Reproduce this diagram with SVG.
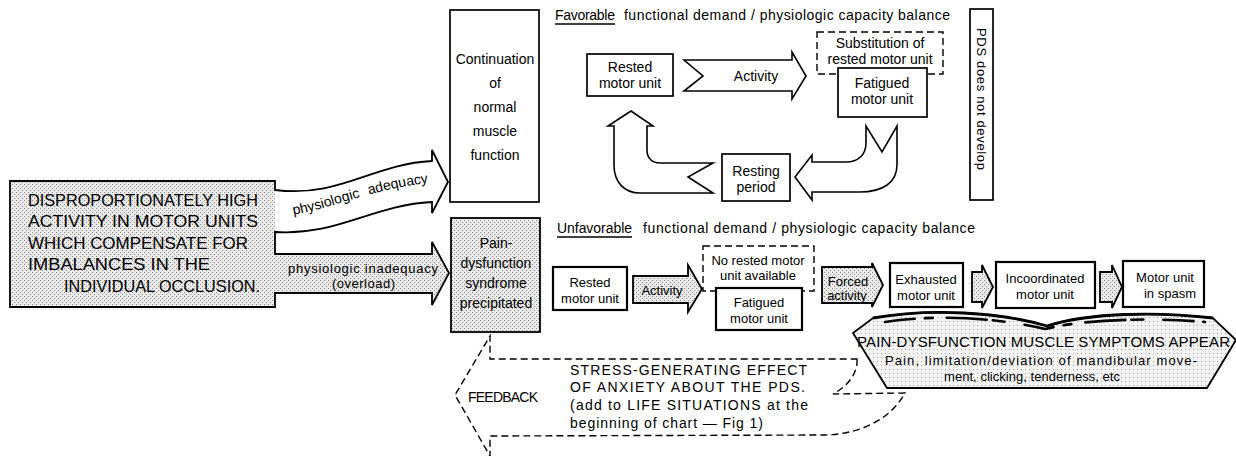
<svg xmlns="http://www.w3.org/2000/svg" width="1236" height="456" viewBox="0 0 1236 456">
<defs>
<pattern id="dots" width="4" height="4" patternUnits="userSpaceOnUse">
<rect width="4" height="4" fill="#e9e9e9"/>
<rect x="0" y="0" width="1" height="1" fill="#8a8a8a"/>
<rect x="2" y="2" width="1" height="1" fill="#8a8a8a"/>
</pattern>
<pattern id="dotsL" width="4" height="4" patternUnits="userSpaceOnUse">
<rect width="4" height="4" fill="#f3f3f3"/>
<rect x="1" y="1" width="1" height="1" fill="#a0a0a0"/>
</pattern>
<path id="adqPath" d="M286,216 C 330,210 372,188 436,182"/>
</defs>
<style>
.box{fill:#fff;stroke:#000;stroke-width:1.7}
.boxb{fill:#fff;stroke:#000;stroke-width:2.2}
.shade{fill:url(#dots);stroke:#000;stroke-width:1.8}
.dash{fill:none;stroke:#000;stroke-width:1.4;stroke-dasharray:7 4}
.dashw{fill:#fff;stroke:#000;stroke-width:1.4;stroke-dasharray:7 4}
.open{fill:#fff;stroke:#000;stroke-width:1.6;stroke-linejoin:miter}
.t{font-family:"Liberation Sans",Arial,sans-serif;font-size:14px;fill:#000;text-anchor:middle}
.s{font-size:13px}
.big{font-size:17px}
.m15{font-size:15px}
.l{text-anchor:start}
</style>

<g id="connectors">
<path d="M10,181 H275 V190 C 340,198 372,164 432,161 V150 L448,182 L432,213 V202 C 372,205 338,236 275,232 V254 H432 V242 L449,273 L432,305 V293 H275 V307 H10 Z" fill="url(#dots)" stroke="none"/>
<path d="M275,190 C 340,198 372,164 432,161 V150 L448,182 L432,213 V202 C 372,205 338,236 275,232 Z" fill="#fff" stroke="none"/>
<path d="M10,181 H275 V190 C 340,198 372,164 432,161 V150 L448,182 L432,213 V202 C 372,205 338,236 275,232 V254 H432 V242 L449,273 L432,305 V293 H275 V307 H10 Z" fill="none" stroke="#000" stroke-width="1.8" stroke-linejoin="miter"/>
<text class="t" word-spacing="5"><textPath href="#adqPath" startOffset="50%">physiologic adequacy</textPath></text>
<text class="t l s" x="288" y="273" textLength="150" lengthAdjust="spacing">physiologic inadequacy</text>
<text class="t l s" x="332" y="288" textLength="63" lengthAdjust="spacing">(overload)</text>

<path id="arrowTopActivity" class="open" d="M684,60 H792 V52 L806,76 L792,99 V91 H684 L703,76 Z"/>
<text class="t" x="756" y="81">Activity</text>
<path id="arrowToResting" class="open" d="M866,126 L882,152 L897,126 V165 C897,183 882,192 860,192 H812 V200 L795,177 L812,155 V162 H846 C858,162 866,155 866,143 Z"/>
<path id="arrowToRested" class="open" d="M713,163 L688,177 L713,193 H640 C624,193 614,182 614,165 V126 H608 L631,111 L653,126 H647 V150 C647,158 652,163 660,163 Z"/>

<path id="arrowBotActivity" class="shade" d="M633,276 H688 V265 L702,289 L688,312 V303 H633 Z"/>
<text class="t s" x="662" y="295">Activity</text>
<path id="arrowForced" class="shade" d="M822,267 H872 V263 L883,285 L872,307 V303 H822 Z"/>
<text class="t s" x="848" y="286">Forced</text>
<text class="t s" x="847" y="300">activity</text>
<path id="arrowSmall1" class="shade" d="M972,272 H982 V265 L993,287 L982,308 V302 H972 Z"/>
<path id="arrowSmall2" class="shade" d="M1100,272 H1112 V265 L1122,287 L1112,308 V302 H1100 Z"/>

<path id="feedback" class="dash" d="M857,359 C 858,373 848,386 833,394 L905,393 C 890,420 860,434 825,435 L490,436 L490,456 L455,395 L490,336 L490,359 Z"/>
</g>

<g id="source">
<text class="t l big" x="28" y="206" textLength="230" lengthAdjust="spacingAndGlyphs">DISPROPORTIONATELY HIGH</text>
<text class="t l big" x="28" y="227" textLength="230" lengthAdjust="spacingAndGlyphs">ACTIVITY IN MOTOR UNITS</text>
<text class="t l big" x="28" y="249" textLength="220" lengthAdjust="spacingAndGlyphs">WHICH COMPENSATE FOR</text>
<text class="t l big" x="28" y="270" textLength="182" lengthAdjust="spacingAndGlyphs">IMBALANCES IN THE</text>
<text class="t l big" x="64" y="292" textLength="196" lengthAdjust="spacingAndGlyphs">INDIVIDUAL OCCLUSION.</text>
</g>

<g id="continuation">
<rect class="box" x="450" y="10" width="89" height="192"/>
<text class="t" x="495" y="64">Continuation</text>
<text class="t" x="495" y="88">of</text>
<text class="t" x="495" y="112">normal</text>
<text class="t" x="495" y="136">muscle</text>
<text class="t" x="495" y="160">function</text>
</g>

<g id="pds-precipitated">
<rect class="shade" x="451" y="218" width="89" height="114"/>
<text class="t" x="496" y="248">Pain-</text>
<text class="t" x="496" y="268">dysfunction</text>
<text class="t" x="496" y="288">syndrome</text>
<text class="t" x="496" y="308">precipitated</text>
</g>

<g id="header-favorable">
<text class="t l" x="555" y="20" textLength="60" lengthAdjust="spacing">Favorable</text>
<line x1="555" y1="24" x2="615" y2="24" stroke="#000" stroke-width="1.3"/>
<text class="t l" x="624" y="20" textLength="326" lengthAdjust="spacing">functional demand / physiologic capacity balance</text>
</g>

<g id="rested-top">
<rect class="box" x="587" y="54" width="86" height="42"/>
<text class="t" x="630" y="72">Rested</text>
<text class="t" x="630" y="88">motor unit</text>
</g>

<g id="substitution">
<rect class="dashw" x="817" y="32" width="126" height="42"/>
<text class="t" x="880" y="48">Substitution of</text>
<text class="t" x="880" y="64">rested motor unit</text>
</g>

<g id="fatigued-top">
<rect class="box" x="838" y="68" width="89" height="49"/>
<text class="t" x="882" y="88">Fatigued</text>
<text class="t" x="882" y="104">motor unit</text>
</g>

<g id="resting">
<rect class="box" x="722" y="154" width="68" height="47"/>
<text class="t" x="756" y="176">Resting</text>
<text class="t" x="756" y="192">period</text>
</g>

<g id="pds-not">
<rect class="box" x="970" y="9" width="23" height="191"/>
<text class="t s" transform="translate(977,99) rotate(90)" textLength="142" lengthAdjust="spacing">PDS does not develop</text>
</g>

<g id="header-unfavorable">
<text class="t l" x="557" y="233" textLength="75" lengthAdjust="spacing">Unfavorable</text>
<line x1="557" y1="237" x2="632" y2="237" stroke="#000" stroke-width="1.3"/>
<text class="t l" x="643" y="233" textLength="332" lengthAdjust="spacing">functional demand / physiologic capacity balance</text>
</g>

<g id="rested-bottom">
<rect class="boxb" x="553" y="267" width="74" height="43"/>
<text class="t s" x="590" y="287">Rested</text>
<text class="t s" x="590" y="303">motor unit</text>
</g>

<g id="no-rested">
<rect class="dashw" x="703" y="246" width="111" height="45"/>
<text class="t s" x="758" y="265">No rested motor</text>
<text class="t s" x="758" y="280">unit available</text>
</g>

<g id="fatigued-bottom">
<rect class="boxb" x="716" y="288" width="86" height="42"/>
<text class="t s" x="759" y="307">Fatigued</text>
<text class="t s" x="759" y="323">motor unit</text>
</g>

<g id="exhausted">
<rect class="boxb" x="890" y="263" width="73" height="44"/>
<text class="t s" x="926" y="284">Exhausted</text>
<text class="t s" x="926" y="300">motor unit</text>
</g>

<g id="incoordinated">
<rect class="boxb" x="996" y="262" width="99" height="46"/>
<text class="t s" x="1045" y="283">Incoordinated</text>
<text class="t s" x="1045" y="299">motor unit</text>
</g>

<g id="spasm">
<rect class="boxb" x="1123" y="261" width="81" height="46"/>
<text class="t s" x="1165" y="282">Motor unit</text>
<text class="t s" x="1170" y="298">in spasm</text>
</g>

<g id="symptoms">
<path d="M873,318 C 930,308 1000,312 1047,326 C 1090,312 1160,312 1213,318 L1236,340 L1207,388 L887,388 L853,333 Z" fill="url(#dotsL)" stroke="#000" stroke-width="1.8"/>
<path d="M873,318 C 930,308 1000,312 1047,326 C 1090,312 1160,312 1213,318" fill="none" stroke="#000" stroke-width="2.8"/>
<path d="M885,322 C 935,314 1000,318 1045,329 C 1090,318 1160,318 1205,322" fill="none" stroke="#000" stroke-width="2.6" stroke-linecap="round" stroke-dasharray="30 10 8 14 40 6 12 20"/>
<text class="t l m15" x="857" y="347" textLength="373" lengthAdjust="spacing">PAIN-DYSFUNCTION MUSCLE SYMPTOMS APPEAR</text>
<text class="t l s" x="885" y="365" textLength="312" lengthAdjust="spacing">Pain, limitation/deviation of mandibular move-</text>
<text class="t l s" x="944" y="381" textLength="176" lengthAdjust="spacing">ment, clicking, tenderness, etc</text>
</g>

<g id="feedback-text">
<text class="t l" x="468" y="402" textLength="70" lengthAdjust="spacing">FEEDBACK</text>
<text class="t l" x="570" y="375" textLength="237" lengthAdjust="spacing">STRESS-GENERATING EFFECT</text>
<text class="t l" x="570" y="392" textLength="235" lengthAdjust="spacing">OF ANXIETY ABOUT THE PDS.</text>
<text class="t l" x="570" y="410" textLength="238" lengthAdjust="spacing">(add to LIFE SITUATIONS at the</text>
<text class="t l" x="570" y="428" textLength="193" lengthAdjust="spacing">beginning of chart — Fig 1)</text>
</g>
</svg>
